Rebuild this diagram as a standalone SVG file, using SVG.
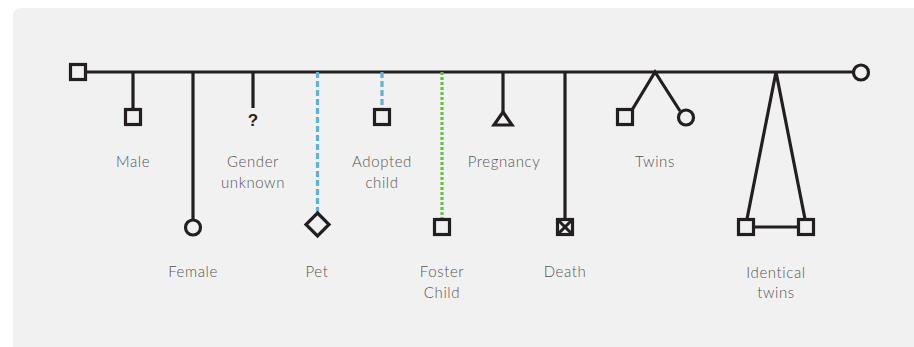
<svg xmlns="http://www.w3.org/2000/svg" width="914" height="347" viewBox="0 0 914 347">
  <style>
    .ln { stroke: #231f20; stroke-width: 3.2; fill: none; }
    .sym { stroke: #231f20; stroke-width: 3.2; fill: #f1f1f1; }
    .adopt { stroke: #5bb3df; stroke-width: 3.2; stroke-dasharray: 6 3; fill: none; }
    .foster { stroke: #6cbf3f; stroke-width: 3.2; stroke-dasharray: 3 2; fill: none; }
    .lbl { font-family: Lato, "Liberation Sans", sans-serif; font-size: 15px; font-weight: 300; letter-spacing: 0.6px; fill: #555555; text-anchor: middle; }
    .q { font-family: "Liberation Sans", Arial, sans-serif; font-size: 17px; font-weight: bold; fill: #231f20; text-anchor: middle; }
  </style>

  <!-- panel background -->
  <path d="M13 16 Q13 8 21 8 L914 8 L914 347 L13 347 Z" fill="#f1f1f1"/>

  <!-- connectors -->
  <g id="connectors">
    <line class="ln" x1="84" y1="72" x2="853" y2="72"/>
    <line class="ln" x1="133" y1="72" x2="133" y2="109"/>
    <line class="ln" x1="193" y1="72" x2="193" y2="220"/>
    <line class="ln" x1="253" y1="72" x2="253" y2="108"/>
    <line class="adopt" x1="317.5" y1="72" x2="317.5" y2="212"/>
    <line class="adopt" x1="382" y1="72" x2="382" y2="109"/>
    <line class="foster" x1="442" y1="72" x2="442" y2="219"/>
    <line class="ln" x1="503" y1="72" x2="503" y2="112"/>
    <line class="ln" x1="565" y1="72" x2="565" y2="219"/>
    <polyline class="ln" points="632,110 655,72 680,111"/>
    <polyline class="ln" points="747,219 776,72 805,219"/>
    <line class="ln" x1="754" y1="227" x2="798" y2="227"/>
  </g>

  <!-- left parent -->
  <g id="parent-male"><rect class="sym" x="70.5" y="64.5" width="15" height="15"/></g>
  <!-- right parent -->
  <g id="parent-female"><circle class="sym" cx="861" cy="72.5" r="7.5"/></g>

  <g id="male">
    <rect class="sym" x="125.5" y="109.5" width="15" height="15"/>
    <text class="lbl" x="133" y="167">Male</text>
  </g>

  <g id="female">
    <circle class="sym" cx="193" cy="227.5" r="7.5"/>
    <text class="lbl" x="193" y="277">Female</text>
  </g>

  <g id="gender-unknown">
    <text class="q" x="253" y="126">?</text>
    <text class="lbl" x="253" y="167">Gender</text>
    <text class="lbl" x="253" y="188">unknown</text>
  </g>

  <g id="pet">
    <polygon class="sym" points="317.5,213 329,224.5 317.5,236 306,224.5"/>
    <text class="lbl" x="317" y="277">Pet</text>
  </g>

  <g id="adopted-child">
    <rect class="sym" x="374.5" y="109.5" width="15" height="15"/>
    <text class="lbl" x="382" y="167">Adopted</text>
    <text class="lbl" x="382" y="188">child</text>
  </g>

  <g id="foster-child">
    <rect class="sym" x="434.5" y="219.5" width="15" height="15"/>
    <text class="lbl" x="442" y="277">Foster</text>
    <text class="lbl" x="442" y="298">Child</text>
  </g>

  <g id="pregnancy">
    <polygon class="sym" points="503,112 512,125 494,125"/>
    <text class="lbl" x="504" y="167">Pregnancy</text>
  </g>

  <g id="death">
    <rect class="sym" x="557.5" y="219.5" width="15" height="15"/>
    <line x1="558" y1="220" x2="572" y2="234" stroke="#231f20" stroke-width="3"/>
    <line x1="572" y1="220" x2="558" y2="234" stroke="#231f20" stroke-width="3"/>
    <text class="lbl" x="565" y="277">Death</text>
  </g>

  <g id="twins">
    <rect class="sym" x="617.5" y="109.5" width="15" height="15"/>
    <circle class="sym" cx="686" cy="117.5" r="7.5"/>
    <text class="lbl" x="655" y="167">Twins</text>
  </g>

  <g id="identical-twins">
    <rect class="sym" x="738.5" y="219.5" width="15" height="15"/>
    <rect class="sym" x="798.5" y="219.5" width="15" height="15"/>
    <text class="lbl" x="776" y="278">Identical</text>
    <text class="lbl" x="776" y="298">twins</text>
  </g>
</svg>
